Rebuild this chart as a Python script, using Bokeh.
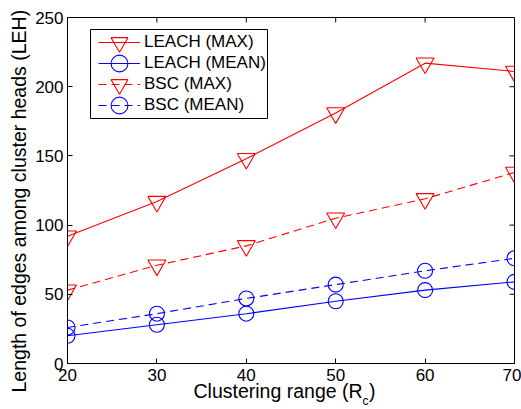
from bokeh.plotting import figure
from bokeh.models import Legend, LegendItem, FixedTicker, Range1d, BoxAnnotation, Title
from bokeh.embed import file_html
from bokeh.resources import INLINE

rc = [20, 30, 40, 50, 60, 70]
leach_max = [92, 117, 148, 181, 217, 211]
leach_mean = [20, 28, 36, 45, 53, 59]
bsc_max = [53, 71, 85, 105, 119, 138]
bsc_mean = [26, 36, 47, 57, 67, 76]
x_ticks = [20, 30, 40, 50, 60, 70]
y_ticks = [0, 50, 100, 150, 200, 250]
x_lim = (20, 70)
y_lim = (0, 250)

FONT = "Liberation Sans"
TICK_FS = "17px"
LABEL_FS = "19.5px"

p = figure(width=521, height=409, output_backend="svg", toolbar_location=None,
           x_range=Range1d(*x_lim), y_range=Range1d(*y_lim),
           min_border_left=67, min_border_right=7, min_border_top=17, min_border_bottom=46)
p.grid.visible = False
p.outline_line_color = "black"
p.outline_line_width = 1
p.background_fill_color = "white"
p.border_fill_color = "white"

for ax in (p.xaxis[0], p.yaxis[0]):
    ax.major_tick_in = 5
    ax.major_tick_out = 0
    ax.minor_tick_line_color = None
    ax.axis_line_color = "black"
    ax.major_label_text_font = FONT
    ax.major_label_text_font_size = TICK_FS
    ax.major_label_text_color = "black"
p.xaxis[0].ticker = FixedTicker(ticks=x_ticks)
p.yaxis[0].ticker = FixedTicker(ticks=y_ticks)
p.xaxis[0].major_label_standoff = 5
p.yaxis[0].major_label_standoff = 4

# inward ticks on the top and right edges (MATLAB box style)
p.ray(x=x_ticks, y=[y_lim[1]] * len(x_ticks), length=5, length_units="screen",
      angle=-90, angle_units="deg", line_color="black", line_width=1)
p.ray(x=[x_lim[1]] * len(y_ticks), y=y_ticks, length=5, length_units="screen",
      angle=180, angle_units="deg", line_color="black", line_width=1)

LW = 1.1
r1 = p.line(rc, leach_max, line_color="red", line_width=LW)
m1 = p.scatter(rc, leach_max, marker="inverted_triangle", size=18, fill_color=None,
               line_color="red", line_width=LW)
r2 = p.line(rc, leach_mean, line_color="blue", line_width=LW)
m2 = p.scatter(rc, leach_mean, marker="circle", size=15, fill_color=None,
               line_color="blue", line_width=LW)
r3 = p.line(rc, bsc_max, line_color="red", line_width=LW, line_dash="8 5")
m3 = p.scatter(rc, bsc_max, marker="inverted_triangle", size=18, fill_color=None,
               line_color="red", line_width=LW)
r4 = p.line(rc, bsc_mean, line_color="blue", line_width=LW, line_dash="8 5")
m4 = p.scatter(rc, bsc_mean, marker="circle", size=15, fill_color=None,
               line_color="blue", line_width=LW)

# legend frame
p.add_layout(BoxAnnotation(left=23, right=200, bottom=245, top=334,
                           left_units="screen", right_units="screen",
                           bottom_units="screen", top_units="screen",
                           fill_color="white", fill_alpha=1,
                           line_color="black", line_width=1, line_alpha=1))

entries = [("LEACH (MAX)", [r1, m1]), ("LEACH (MEAN)", [r2, m2]),
           ("BSC (MAX)", [r3, m3]), ("BSC (MEAN)", [r4, m4])]
for i, (lab, rends) in enumerate(entries):
    lg = Legend(items=[LegendItem(label=lab, renderers=rends)],
                location=(31, 300 - 21 * i))
    lg.border_line_color = None
    lg.background_fill_alpha = 0
    lg.label_text_font = FONT
    lg.label_text_font_size = "17px"
    lg.label_text_color = "black"
    lg.glyph_width = 42
    lg.glyph_height = 42
    lg.label_height = 42
    lg.label_standoff = 4
    lg.padding = 0
    lg.margin = 0
    lg.spacing = 0
    p.add_layout(lg)

# axis titles
x_title = Title(text="Clustering range (R\u2004)", align="left", offset=126,
                vertical_align="top", standoff=-7,
                text_font=FONT, text_font_size=LABEL_FS, text_font_style="normal",
                text_color="black")
x_sub = Title(text="c", align="left", offset=295, vertical_align="top", standoff=-13,
              text_font=FONT, text_font_size="12px", text_font_style="normal",
              text_color="black")
p.add_layout(x_title, "below")
p.add_layout(x_sub, "below")

y_title = Title(text="Length of edges among cluster heads (LEH)", align="left", offset=-29,
                vertical_align="top", standoff=1,
                text_font=FONT, text_font_size=LABEL_FS, text_font_style="normal",
                text_color="black")
p.add_layout(y_title, "left")

open("out.html", "w").write(file_html(p, INLINE))
